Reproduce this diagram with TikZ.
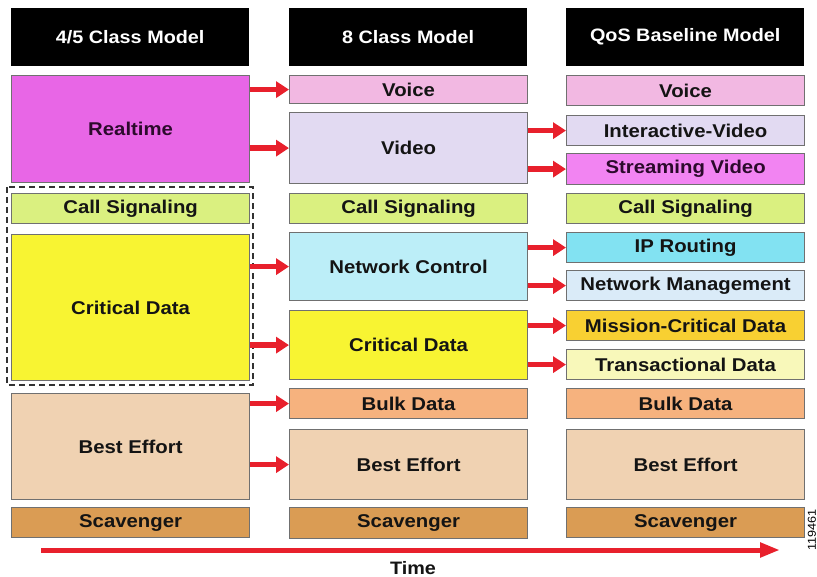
\documentclass[tikz,border=0pt]{standalone}
\usepackage{fontspec}
\setmainfont{Liberation Sans}[FakeStretch=1.1]
\usetikzlibrary{arrows.meta}
\definecolor{cRealtime}{HTML}{E866E6}
\definecolor{cVoice}{HTML}{F2B8E2}
\definecolor{cVideo}{HTML}{E2DAF2}
\definecolor{cStream}{HTML}{F284F2}
\definecolor{cCall}{HTML}{DAF080}
\definecolor{cCrit}{HTML}{F8F432}
\definecolor{cNetCtl}{HTML}{BCEEF8}
\definecolor{cIPR}{HTML}{82E2F2}
\definecolor{cNetMgmt}{HTML}{DAEBF8}
\definecolor{cMission}{HTML}{F8D032}
\definecolor{cTrans}{HTML}{F8F8BA}
\definecolor{cBulk}{HTML}{F6B27E}
\definecolor{cBest}{HTML}{F0D2B2}
\definecolor{cScav}{HTML}{DA9C54}
\definecolor{cEdge}{HTML}{707070}
\definecolor{cRed}{HTML}{E8202C}
\definecolor{cText}{HTML}{141414}
\definecolor{cPurpleText}{HTML}{2C0A2C}
\tikzset{
  box/.style={draw=cEdge, line width=1.2pt, inner sep=0pt, anchor=north west,
    minimum width=238pt, text=cText,
    font=\fontsize{18.5}{20}\selectfont\bfseries},
  head/.style={fill=black, inner sep=0pt, anchor=north west,
    minimum width=238pt, minimum height=58pt, text=white,
    font=\fontsize{18}{20}\selectfont\bfseries},
  fatarrow/.style={draw=cRed, line width=5.5pt,
    -{Triangle[length=13pt,width=16pt]}},
  timearrow/.style={draw=cRed, line width=5pt,
    -{Triangle[length=20pt,width=14pt]}},
  groupframe/.style={draw=black!80, line width=1.6pt, dash pattern=on 6pt off 4pt}
}
\begin{document}
\begin{tikzpicture}[x=1pt, y=-1pt]
\useasboundingbox[fill=white] (0,0) rectangle (817,577);

% column headers
\node[head] (h1) at (11,8) {4/5 Class Model};
\node[head] (h2) at (289,8) {8 Class Model};
\node[head] (h3) at (566,8) {QoS Baseline Model};

% 4/5 class model
\node[box, fill=cRealtime, minimum height=107pt, text=cPurpleText] (rt) at (11,75) {Realtime};
\node[box, fill=cCall, minimum height=30pt] (cs1) at (11,193) {Call Signaling};
\node[box, fill=cCrit, minimum height=146pt] (cd1) at (11,234) {Critical Data};
\node[box, fill=cBest, minimum height=106pt] (be1) at (11,393) {Best Effort};
\node[box, fill=cScav, minimum height=30pt] (sc1) at (11,507) {Scavenger};
\draw[groupframe] (7,187) rectangle (253,385);

% 8 class model
\node[box, fill=cVoice, minimum height=28pt] (vo2) at (289,75) {Voice};
\node[box, fill=cVideo, minimum height=71pt] (vi2) at (289,112) {Video};
\node[box, fill=cCall, minimum height=30pt] (cs2) at (289,193) {Call Signaling};
\node[box, fill=cNetCtl, minimum height=68pt] (nc2) at (289,232) {Network Control};
\node[box, fill=cCrit, minimum height=69pt] (cd2) at (289,310) {Critical Data};
\node[box, fill=cBulk, minimum height=30pt] (bd2) at (289,388) {Bulk Data};
\node[box, fill=cBest, minimum height=70pt] (be2) at (289,429) {Best Effort};
\node[box, fill=cScav, minimum height=31pt] (sc2) at (289,507) {Scavenger};

% QoS baseline model
\node[box, fill=cVoice, minimum height=30pt] (vo3) at (566,75) {Voice};
\node[box, fill=cVideo, minimum height=30pt] (iv3) at (566,115) {Interactive-Video};
\node[box, fill=cStream, minimum height=31pt, text=cPurpleText] (sv3) at (566,153) {Streaming Video};
\node[box, fill=cCall, minimum height=30pt] (cs3) at (566,193) {Call Signaling};
\node[box, fill=cIPR, minimum height=30pt] (ip3) at (566,232) {IP Routing};
\node[box, fill=cNetMgmt, minimum height=30pt] (nm3) at (566,270) {Network Management};
\node[box, fill=cMission, minimum height=30pt] (mc3) at (566,310) {Mission-Critical Data};
\node[box, fill=cTrans, minimum height=30pt] (td3) at (566,349) {Transactional Data};
\node[box, fill=cBulk, minimum height=30pt] (bd3) at (566,388) {Bulk Data};
\node[box, fill=cBest, minimum height=70pt] (be3) at (566,429) {Best Effort};
\node[box, fill=cScav, minimum height=30pt] (sc3) at (566,507) {Scavenger};

% 4/5 class -> 8 class
\draw[fatarrow] (rt.east |- vo2.west) -- (vo2.west);
\draw[fatarrow] (rt.east |- vi2.west) -- (vi2.west);
\draw[fatarrow] (cd1.east |- nc2.west) -- (nc2.west);
\draw[fatarrow] (cd1.east |- cd2.west) -- (cd2.west);
\draw[fatarrow] (be1.east |- bd2.west) -- (bd2.west);
\draw[fatarrow] (be1.east |- be2.west) -- (be2.west);

% 8 class -> QoS baseline
\draw[fatarrow] (vi2.east |- iv3.west) -- (iv3.west);
\draw[fatarrow] (vi2.east |- sv3.west) -- (sv3.west);
\draw[fatarrow] (nc2.east |- ip3.west) -- (ip3.west);
\draw[fatarrow] (nc2.east |- nm3.west) -- (nm3.west);
\draw[fatarrow] (cd2.east |- mc3.west) -- (mc3.west);
\draw[fatarrow] (cd2.east |- td3.west) -- (td3.west);

% time axis
\coordinate (tstart) at (41,550);
\coordinate (tend) at (780,550);
\draw[timearrow] (tstart) -- (tend);
\node[text=cText, font=\fontsize{18}{20}\selectfont\bfseries] (time) at (413,568) {Time};

% figure number
\node[rotate=90, text=black, font=\fontsize{11.5}{12}\selectfont] (fignum) at (812,530) {119461};
\end{tikzpicture}
\end{document}
